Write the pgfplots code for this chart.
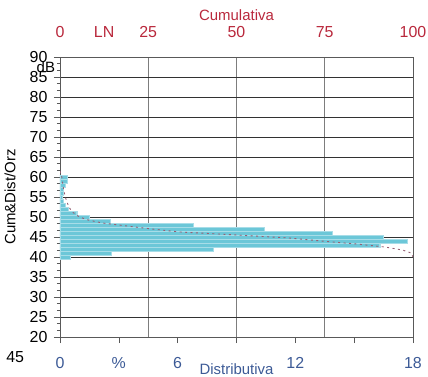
\documentclass[border=0pt]{standalone}
\usepackage{fontspec}
\setmainfont{Liberation Sans}
\usepackage{pgfplots}
\usepackage{pgfplotstable}
\pgfplotsset{compat=1.18}
\definecolor{barcol}{RGB}{108,199,216}
\definecolor{cumred}{RGB}{185,40,60}
\definecolor{cumdot}{RGB}{150,95,115}
\definecolor{distblue}{RGB}{60,90,150}
\definecolor{gridh}{RGB}{50,50,50}
\definecolor{gridv}{RGB}{125,125,125}

\pgfplotstableread{
db dist
40 0.5
41 2.6
42 7.8
43 16.3
44 17.7
45 16.5
46 13.9
47 10.4
48 6.8
49 2.55
50 1.5
51 0.85
52 0.4
53 0.25
54 0.15
55 0.1
56 0.15
57 0.15
58 0.25
59 0.35
60 0.35
}\disttable

\pgfplotstableread{
cum db
0 61.5
0.5 60
1 57
1.5 55
2.5 52.5
3.5 51.25
5.5 50
8 49.25
12 48.5
19 47.75
26 47
34 46.25
45 45.75
55 45.25
65 44.75
74 44
84 43.25
92 42.5
97 41.75
99.5 41
100 40
}\cumtable

\begin{document}
\begin{tikzpicture}[font=\fontsize{15}{17}\selectfont]
\pgfplotsset{base/.style={scale only axis, width=353bp, height=280bp,
  at={(0,0)}, anchor=south west, ymin=20, ymax=90,
  /pgf/number format/assume math mode=true,
  tick label style={font=\fontsize{16}{18}\selectfont},
  label style={font=\fontsize{15.5}{18}\selectfont}}}
% cumulative axis: top ticks and vertical grid
\begin{axis}[base, xmin=0, xmax=100,
  axis x line*=top, axis y line=none,
  axis line style={gridv, line width=0.8pt},
  xtick={0,25,50,75,100}, major tick length=0pt,
  xmajorgrids, grid style={gridv, line width=0.8pt},
  extra x ticks={12.5}, extra x tick labels={LN},
  extra x tick style={grid=none},
  xticklabel style={text=cumred, anchor=center, yshift=25bp},
  xlabel={Cumulativa},
  every axis x label/.style={at={(axis description cs:0.5,1.15)}, anchor=center, text=cumred},
  ytick=\empty]
\end{axis}
% distribution axis
\begin{axis}[base, xmin=0, xmax=18,
  axis line style={black!65, line width=0.8pt},
  ytick={20,25,...,90}, minor y tick num=2,
  ymajorgrids, grid style={gridh, line width=0.9pt},
  xtick={0,3,6,9,12,15,18}, xticklabels={0,\%,6,,12,,18},
  xtick pos=bottom, ytick pos=left,
  tick align=outside, major tick length=6bp, minor tick length=3bp,
  tick style={black!65, line width=0.6pt},
  xticklabel style={text=distblue, anchor=center, yshift=-20bp},
  yticklabel style={anchor=east, xshift=-3bp},
  xlabel={Distributiva},
  every axis x label/.style={at={(axis description cs:0.5,-0.114)}, anchor=center, text=distblue},
  ylabel={Cum\&Dist/Orz},
  every axis y label/.style={at={(axis description cs:-0.1416,0.5)}, rotate=90, anchor=center},
  clip=false]
\addplot[xbar, bar width=4bp, fill=barcol, draw=white!40!barcol, line width=0.3pt]
  table[x=dist, y=db] {\disttable};
\node[font=\fontsize{15}{17}\selectfont] at (axis description cs:-0.04,0.962) {dB};
\node[font=\fontsize{16}{18}\selectfont] at (axis description cs:-0.127,-0.071) {45};
\end{axis}
% cumulative curve
\begin{axis}[base, xmin=0, xmax=100, hide axis]
\addplot[cumdot, line width=0.9pt, dash pattern=on 2pt off 3.5pt]
  table[x=cum, y=db] {\cumtable};
\end{axis}
\pgfresetboundingbox
\path (-60bp,-40bp) rectangle (368bp,337bp);
\end{tikzpicture}
\end{document}
